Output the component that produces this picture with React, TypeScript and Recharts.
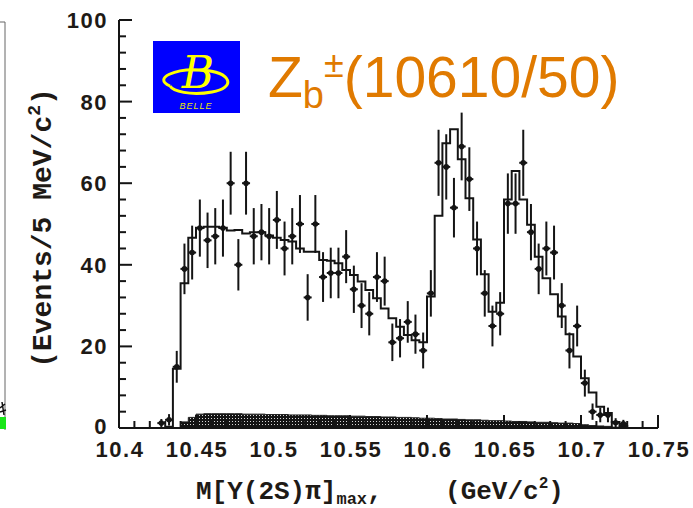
import React from 'react';
import { ComposedChart, Line, Area, Scatter, ErrorBar, XAxis, YAxis } from 'recharts';

// ---- data ----
// Fit histogram: left bin edges (5 MeV bins) and contents
const fitEdges = [
  10.43, 10.435, 10.44, 10.445, 10.45, 10.455, 10.46, 10.465, 10.47, 10.475,
  10.48, 10.485, 10.49, 10.495, 10.5, 10.505, 10.51, 10.515, 10.52, 10.525,
  10.53, 10.535, 10.54, 10.545, 10.55, 10.555, 10.56, 10.565, 10.57, 10.575,
  10.58, 10.585, 10.59, 10.595, 10.6, 10.605, 10.61, 10.615, 10.62, 10.625,
  10.63, 10.635, 10.64, 10.645, 10.65, 10.655, 10.66, 10.665, 10.67, 10.675,
  10.68, 10.685, 10.69, 10.695, 10.7, 10.705, 10.71, 10.715, 10.72, 10.725, 10.73,
];
const fitValues = [
  0.3, 14.5, 35.5, 46.6, 49.1, 49.3, 49.3, 49.1, 48.4, 48.5,
  47.7, 48.0, 48.0, 47.2, 46.6, 46.1, 45.7, 44.0, 43.2, 43.2,
  41.2, 41.0, 40.4, 38.7, 37.5, 35.9, 33.8, 31.8, 29.3, 26.9,
  24.8, 22.8, 21.5, 21.0, 32.2, 52.0, 69.8, 73.2, 65.9, 56.3,
  46.2, 37.7, 28.5, 30.7, 56.0, 63.0, 56.0, 49.8, 42.0, 36.7,
  32.8, 27.3, 23.0, 17.5, 12.2, 8.7, 5.2, 3.7, 1.5, 0.5, 0,
];

// Background (hatched band)
const bgEdges = [
  10.44, 10.445, 10.45, 10.455, 10.46, 10.465, 10.47, 10.475, 10.48, 10.485,
  10.49, 10.495, 10.5, 10.505, 10.51, 10.515, 10.52, 10.525, 10.53, 10.535,
  10.54, 10.545, 10.55, 10.555, 10.56, 10.565, 10.57, 10.575, 10.58, 10.585,
  10.59, 10.595, 10.6, 10.605, 10.61, 10.615, 10.62, 10.625, 10.63, 10.635,
  10.64, 10.645, 10.65, 10.655, 10.66, 10.665, 10.67, 10.675, 10.68, 10.685,
  10.69, 10.695, 10.7, 10.705, 10.71, 10.715, 10.72, 10.725,
];
const bgValues = [
  1.5, 2.6, 3.4, 3.5, 3.5, 3.5, 3.5, 3.5, 3.4, 3.4,
  3.4, 3.3, 3.3, 3.3, 3.2, 3.2, 3.2, 3.1, 3.1, 3.0,
  3.0, 3.0, 2.9, 2.9, 2.8, 2.8, 2.7, 2.7, 2.6, 2.6,
  2.5, 2.4, 2.4, 2.3, 2.2, 2.2, 2.1, 2.0, 2.0, 1.9,
  1.8, 1.8, 1.7, 1.6, 1.6, 1.5, 1.4, 1.4, 1.3, 1.2,
  1.2, 1.1, 0.8, 0.6, 0.5, 0.4, 0.2, 0,
];

// Data points (bin centres), counts and errors
const ptX = [
  10.4275, 10.4325, 10.4375, 10.4425, 10.4475, 10.4525, 10.4575, 10.4625, 10.4675, 10.4725,
  10.4775, 10.4825, 10.4875, 10.4925, 10.4975, 10.5025, 10.5075, 10.5125, 10.5175, 10.5225,
  10.5275, 10.5325, 10.5375, 10.5425, 10.5475, 10.5525, 10.5575, 10.5625, 10.5675, 10.5725,
  10.5775, 10.5825, 10.5875, 10.5925, 10.5975, 10.6025, 10.6075, 10.6125, 10.6175, 10.6225,
  10.6275, 10.6325, 10.6375, 10.6425, 10.6475, 10.6525, 10.6575, 10.6625, 10.6675, 10.6725,
  10.6775, 10.6825, 10.6875, 10.6925, 10.6975, 10.7025, 10.7075, 10.7125, 10.7175, 10.7225,
  10.7275,
];
const ptY = [
  1.2, 2, 15, 39, 43, 49, 46, 47, 49, 60,
  40, 60, 47, 48, 47, 51, 44, 47, 50, 32,
  50, 37, 38, 38, 42, 34, 30, 28, 37, 36,
  21, 22, 26, 23, 19, 33, 65, 64, 54, 69,
  61, 44, 33, 25, 28, 55, 55, 65, 48, 39,
  44, 43, 30, 19, 25, 11, 4, 3.2, 3.2, 1.3,
  1,
];
const ptErr = [
  1.0, 1.4, 3.9, 6.2, 6.6, 7.0, 6.8, 6.9, 7.0, 7.7,
  6.3, 7.7, 6.9, 6.9, 6.9, 7.1, 6.6, 6.9, 7.1, 5.7,
  7.1, 6.1, 6.2, 6.2, 6.5, 5.8, 5.5, 5.3, 6.1, 6.0,
  4.6, 4.7, 5.1, 4.8, 4.4, 5.7, 8.1, 8.0, 7.3, 8.3,
  7.8, 6.6, 5.7, 5.0, 5.3, 7.4, 7.4, 8.1, 6.9, 6.2,
  6.6, 6.6, 5.5, 4.4, 5.0, 3.3, 2.0, 1.8, 1.8, 1.1,
  1.0,
];

const xTicks = [
  10.4, 10.41, 10.42, 10.43, 10.44, 10.45, 10.46, 10.47, 10.48, 10.49,
  10.5, 10.51, 10.52, 10.53, 10.54, 10.55, 10.56, 10.57, 10.58, 10.59,
  10.6, 10.61, 10.62, 10.63, 10.64, 10.65, 10.66, 10.67, 10.68, 10.69,
  10.7, 10.71, 10.72, 10.73, 10.74, 10.75,
];
const yTicks = [
  0, 4, 8, 12, 16, 20, 24, 28, 32, 36, 40, 44, 48, 52, 56, 60, 64, 68, 72, 76,
  80, 84, 88, 92, 96, 100,
];

const fitData = fitEdges.map((x, i) => ({ x, fit: fitValues[i] }));
const bgData = bgEdges.map((x, i) => ({ x, bg: bgValues[i] }));
const pointData = ptX.map((x, i) => ({ x, y: ptY[i], err: ptErr[i] }));

const INK = '#141414';
const LABEL = '#1e1a16';
const MAJ = 13;
const MIN = 7;

const isMajorX = (v: number) => Math.abs(v * 20 - Math.round(v * 20)) < 1e-6;
const isMajorY = (v: number) => Math.abs(v % 20) < 1e-6;
const fmtX = (v: number) => String(Number(v.toFixed(2)));

const labelStyle: React.CSSProperties = {
  fontFamily: '"Liberation Sans", Arial, sans-serif',
  fontWeight: 700,
  fontSize: 22,
  letterSpacing: 1.5,
};

const BottomTick = (props: any) => {
  const { x, y, payload } = props;
  const v = payload.value as number;
  const major = isMajorX(v);
  return (
    <g>
      <line x1={x} x2={x} y1={y} y2={y - (major ? MAJ : MIN)} stroke={INK} strokeWidth={2} />
      {major && (
        <text x={x + 1} y={y + 29} textAnchor="middle" fill={LABEL} style={labelStyle}>
          {fmtX(v)}
        </text>
      )}
    </g>
  );
};

const TopTick = (props: any) => {
  const { x, y, payload } = props;
  const major = isMajorX(payload.value);
  return <line x1={x} x2={x} y1={y} y2={y + (major ? MAJ : MIN)} stroke={INK} strokeWidth={2} />;
};

const LeftTick = (props: any) => {
  const { x, y, payload } = props;
  const v = payload.value as number;
  const major = isMajorY(v);
  return (
    <g>
      <line x1={x} x2={x + (major ? MAJ : MIN)} y1={y} y2={y} stroke={INK} strokeWidth={2} />
      {major && (
        <text x={x - 11} y={y + (v === 0 ? 6 : 8)} textAnchor="end" fill={LABEL} style={labelStyle}>
          {String(v)}
        </text>
      )}
    </g>
  );
};

const RightTick = (props: any) => {
  const { x, y, payload } = props;
  const major = isMajorY(payload.value);
  return <line x1={x} x2={x - (major ? MAJ : MIN)} y1={y} y2={y} stroke={INK} strokeWidth={2} />;
};

const PointShape = (props: any) => {
  const { cx, cy } = props;
  if (cx == null || cy == null) return <g />;
  return (
    <g>
      <line x1={cx - 4} x2={cx + 4} y1={cy} y2={cy} stroke={INK} strokeWidth={2} />
      <circle cx={cx} cy={cy} r={2.8} fill={INK} />
    </g>
  );
};

const mono: React.CSSProperties = {
  fontFamily: '"Liberation Mono", "DejaVu Sans Mono", monospace',
  fontWeight: 700,
  whiteSpace: 'pre',
};

export default function App() {
  return (
    <div style={{ position: 'absolute', left: 0, top: 0, width: 693, height: 508, background: '#fff' }}>
      <svg width={0} height={0} style={{ position: 'absolute' }}>
        <defs>
          <pattern id="bgHatch" patternUnits="userSpaceOnUse" width={3} height={3}>
            <rect x={0} y={0} width={3} height={3} fill="#141414" />
            <rect x={1} y={1} width={1} height={1} fill="#d8d8d8" />
          </pattern>
        </defs>
      </svg>
      <ComposedChart
        width={693}
        height={508}
        margin={{ top: 20, right: 35, bottom: 0, left: 0 }}
      >
        <XAxis
          dataKey="x"
          type="number"
          domain={[10.4, 10.75]}
          ticks={xTicks}
          interval={0}
          allowDataOverflow
          height={80}
          tickSize={0}
          tickMargin={0}
          tickLine={false}
          axisLine={{ stroke: INK, strokeWidth: 2 }}
          tick={<BottomTick />}
        />
        <XAxis
          xAxisId="top"
          orientation="top"
          dataKey="x"
          type="number"
          domain={[10.4, 10.75]}
          ticks={xTicks}
          interval={0}
          allowDataOverflow
          height={0}
          tickSize={0}
          tickMargin={0}
          tickLine={false}
          axisLine={{ stroke: INK, strokeWidth: 2 }}
          tick={<TopTick />}
        />
        <YAxis
          type="number"
          domain={[0, 100]}
          ticks={yTicks}
          interval={0}
          allowDataOverflow
          width={119}
          tickSize={0}
          tickMargin={0}
          tickLine={false}
          axisLine={{ stroke: INK, strokeWidth: 2 }}
          tick={<LeftTick />}
        />
        <YAxis
          yAxisId="right"
          orientation="right"
          type="number"
          domain={[0, 100]}
          ticks={yTicks}
          interval={0}
          allowDataOverflow
          width={0}
          tickSize={0}
          tickMargin={0}
          tickLine={false}
          axisLine={{ stroke: INK, strokeWidth: 2 }}
          tick={<RightTick />}
        />
        <Area
          data={bgData}
          dataKey="bg"
          type="stepAfter"
          fill="url(#bgHatch)"
          fillOpacity={1}
          stroke="#222"
          strokeWidth={1}
          isAnimationActive={false}
        />
        <Line
          data={fitData}
          dataKey="fit"
          type="stepAfter"
          stroke={INK}
          strokeWidth={2}
          dot={false}
          activeDot={false}
          isAnimationActive={false}
        />
        <Scatter data={pointData} dataKey="y" shape={<PointShape />} isAnimationActive={false}>
          <ErrorBar dataKey="err" direction="y" width={0} stroke={INK} strokeWidth={2} />
        </Scatter>
      </ComposedChart>
      <svg
        width={693}
        height={508}
        style={{ position: 'absolute', left: 0, top: 0, pointerEvents: 'none' }}
      >
        {/* fragment of neighbouring figure at left edge */}
        <line x1={0} x2={5} y1={22} y2={22} stroke="#666" strokeWidth={1} />
        <line x1={5} x2={5} y1={22} y2={430} stroke="#666" strokeWidth={1} />
        <rect x={0} y={417} width={6} height={12} fill="#19e619" />
        <path d="M0,408 L5,404 M0,412 L6,410 M2,402 L4,415" stroke="#111" strokeWidth={1.5} />

        {/* Belle logo */}
        <rect x={153} y={41} width={87} height={72} fill="#0000ff" />
        <path
          d="M170,86 C152,78 176,68 201,70 C233,72 236,88 212,92 C190,96 173,91 170,86"
          fill="none"
          stroke="#ffff00"
          strokeWidth={3}
        />
        <text
          x={198}
          y={88}
          textAnchor="middle"
          fill="#ffff00"
          style={{ fontFamily: '"DejaVu Serif", serif', fontStyle: 'italic', fontSize: 44 }}
        >
          B
        </text>
        <text
          x={196}
          y={109}
          textAnchor="middle"
          fill="#e6e600"
          style={{ fontFamily: '"Liberation Sans", sans-serif', fontStyle: 'italic', fontSize: 9, letterSpacing: 1 }}
        >
          BELLE
        </text>

        {/* title */}
        <text
          x={268}
          y={97}
          fill="#e07a00"
          style={{ fontFamily: '"Liberation Sans", Arial, sans-serif', fontSize: 57 }}
        >
          Z
          <tspan fontSize={38} dy={11}>b</tspan>
          <tspan fontSize={36} dy={-31}>±</tspan>
          <tspan fontSize={57} dy={20}>(10610/50)</tspan>
        </text>

        {/* axis titles */}
        <text x={196} y={499} fill={LABEL} style={{ ...mono, fontSize: 26 }}>
          M[Y(2S)π]
          <tspan fontSize={17} dy={5}>max</tspan>
          <tspan fontSize={26} dy={-5}>{',    (GeV/c'}</tspan>
          <tspan fontSize={16} dy={-11}>2</tspan>
          <tspan fontSize={26} dy={11}>)</tspan>
        </text>
        <text
          transform="translate(51,228) rotate(-90)"
          x={0}
          y={0}
          textAnchor="middle"
          fill={LABEL}
          style={{ ...mono, fontSize: 28 }}
        >
          (Events/5 MeV/c
          <tspan fontSize={18} dy={-11}>2</tspan>
          <tspan fontSize={28} dy={11}>)</tspan>
        </text>
      </svg>
    </div>
  );
}
